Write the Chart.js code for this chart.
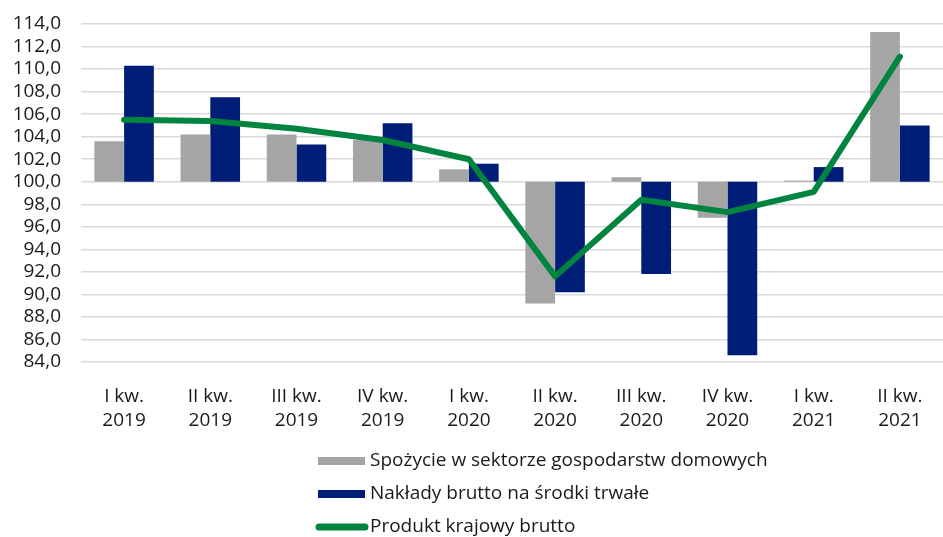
<!DOCTYPE html>
<html>
<head>
<meta charset="utf-8">
<script src="https://cdn.jsdelivr.net/npm/chart.js@4/dist/chart.umd.min.js"></script>
<style>
html,body{margin:0;padding:0;background:#fff;}
#wrap{width:943px;height:537px;position:relative;}
</style>
</head>
<body>
<div id="wrap"><canvas id="c"></canvas></div>
<script>
const categories = [
  ['I kw.', '2019'], ['II kw.', '2019'], ['III kw.', '2019'], ['IV kw.', '2019'],
  ['I kw.', '2020'], ['II kw.', '2020'], ['III kw.', '2020'], ['IV kw.', '2020'],
  ['I kw.', '2021'], ['II kw.', '2021']
];
const consumption = [103.6, 104.2, 104.2, 103.7, 101.1, 89.2, 100.4, 96.8, 100.1, 113.3];
const investment  = [110.3, 107.5, 103.3, 105.2, 101.6, 90.2, 91.8, 84.6, 101.3, 105.0];
const gdp         = [105.5, 105.4, 104.7, 103.7, 102.0, 91.6, 98.4, 97.3, 99.1, 111.1];
const seriesLabels = [
  'Spożycie w sektorze gospodarstw domowych',
  'Nakłady brutto na środki trwałe',
  'Produkt krajowy brutto'
];
const baseValue = 100;
const yMin = 84, yMax = 114, yStep = 2;

const FONT = '"Open Sans", "Noto Sans", sans-serif';
const GRAY = '#A5A5A5', NAVY = '#001E78', GREEN = '#00843F';
const TEXT = '#1a1a1a';

const legendPlugin = {
  id: 'customLegend',
  afterDraw(chart) {
    const ctx = chart.ctx;
    const ds = chart.data.datasets;
    const order = [1, 2, 0];
    const x0 = 318, textX = 370;
    const ys = [461, 494, 527];
    ctx.save();
    ctx.font = '19px ' + FONT;
    ctx.textBaseline = 'middle';
    order.forEach((di, i) => {
      const d = ds[di];
      const y = ys[i];
      if (d.type === 'line') {
        ctx.strokeStyle = d.borderColor;
        ctx.lineWidth = 7;
        ctx.lineCap = 'round';
        ctx.beginPath();
        ctx.moveTo(x0 + 1, y);
        ctx.lineTo(x0 + 47, y);
        ctx.stroke();
      } else {
        ctx.fillStyle = d.backgroundColor;
        ctx.fillRect(x0, y - 4, 47, 8);
      }
      ctx.fillStyle = TEXT;
      ctx.fillText(d.label, textX, y);
    });
    ctx.restore();
  }
};

new Chart(document.getElementById('c'), {
  data: {
    labels: categories,
    datasets: [
      {
        type: 'line',
        label: seriesLabels[2],
        data: gdp,
        borderColor: GREEN,
        backgroundColor: GREEN,
        borderWidth: 6,
        pointRadius: 0,
        tension: 0,
        borderCapStyle: 'round',
        borderJoinStyle: 'round',
        order: 0
      },
      {
        type: 'bar',
        label: seriesLabels[0],
        data: consumption.map(v => [baseValue, v]),
        backgroundColor: GRAY,
        categoryPercentage: 0.69,
        barPercentage: 1.0,
        order: 1
      },
      {
        type: 'bar',
        label: seriesLabels[1],
        data: investment.map(v => [baseValue, v]),
        backgroundColor: NAVY,
        categoryPercentage: 0.69,
        barPercentage: 1.0,
        order: 1
      }
    ]
  },
  options: {
    responsive: true,
    maintainAspectRatio: false,
    animation: false,
    layout: { padding: { top: 24, right: 0, left: 0, bottom: 0 } },
    plugins: {
      legend: { display: false },
      tooltip: { enabled: false }
    },
    scales: {
      x: {
        grid: { display: false },
        border: { display: false },
        ticks: {
          color: TEXT,
          font: { family: FONT, size: 19, lineHeight: 1.3 },
          padding: 14,
          maxRotation: 0,
          autoSkip: false
        },
        afterFit(scale) { scale.height = 175; }
      },
      y: {
        min: yMin,
        max: yMax,
        grid: { color: '#D9D9D9', lineWidth: 1.5, drawTicks: false },
        border: { display: false },
        ticks: {
          stepSize: yStep,
          autoSkip: false,
          color: TEXT,
          font: { family: FONT, size: 19 },
          padding: 20,
          callback: v => v.toFixed(1).replace('.', ',')
        },
        afterFit(scale) {
          scale.width = 81;
          scale.paddingTop = 0;
          scale.paddingBottom = 0;
        }
      }
    }
  },
  plugins: [legendPlugin]
});
</script>
</body>
</html>
